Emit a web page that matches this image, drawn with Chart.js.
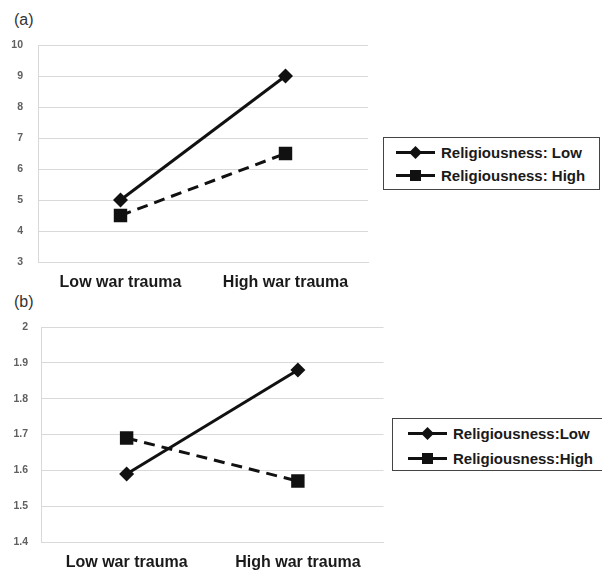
<!DOCTYPE html>
<html>
<head>
<meta charset="utf-8">
<script src="https://cdn.jsdelivr.net/npm/chart.js@4"></script>
<style>
  body { margin: 0; background: #fff; font-family: "Liberation Sans", Arial, sans-serif; }
  #wrap { position: relative; width: 602px; height: 572px; overflow: hidden; }
  .panel { position: absolute; left: 14px; font-size: 16px; color: #333; }
  .cv { position: absolute; left: 0; }
  .legend { position: absolute; border: 1.5px solid #444; background: #fff; box-sizing: border-box; }
  .legend div { display: flex; align-items: center; font-weight: bold; font-size: 15px; color: #1a1a1a; white-space: nowrap; }
  .legend svg { margin-right: 5px; flex: none; }
</style>
</head>
<body>
<div id="wrap">
  <div class="panel" style="top:11px">(a)</div>
  <div class="panel" style="top:293px">(b)</div>
  <div class="cv" style="top:0;width:380px;height:295px"><canvas id="chartA"></canvas></div>
  <div class="cv" style="top:282px;width:393px;height:290px"><canvas id="chartB"></canvas></div>
  <div class="legend" id="legA" style="left:383px;top:137px;width:217px;height:53px;padding:3px 0 0 11px"></div>
  <div class="legend" id="legB" style="left:392px;top:418px;width:215px;height:53px;padding:2px 0 0 14px"></div>
</div>
<script>
// categories
var categories = ["Low war trauma", "High war trauma"];

// panel (a)
var aLow = [5, 9];
var aHigh = [4.5, 6.5];
var aNames = ["Religiousness: Low", "Religiousness: High"];

// panel (b)
var bLow = [1.59, 1.88];
var bHigh = [1.69, 1.57];
var bNames = ["Religiousness:Low", "Religiousness:High"];

var gridColor = "#d9d9d9";

function makeChart(id, low, high, names, yMin, yMax, yStep, yWidth, tickPad, xHeight, padTop, padRight) {
    var ctx = document.getElementById(id);
    return new Chart(ctx, {
        type: "line",
        data: {
            labels: categories,
            datasets: [{
                label: names[0],
                data: low,
                borderColor: "#111",
                backgroundColor: "#111",
                borderWidth: 3,
                pointStyle: "rectRot",
                pointRadius: 7.5,
                pointBorderWidth: 0
            }, {
                label: names[1],
                data: high,
                borderColor: "#111",
                backgroundColor: "#111",
                borderWidth: 3,
                borderDash: [11, 7],
                pointStyle: "rect",
                pointRadius: 9.5,
                pointBorderWidth: 0
            }]
        },
        options: {
            responsive: true,
            maintainAspectRatio: false,
            animation: false,
            layout: { padding: { top: padTop, right: padRight, left: 0, bottom: 0 } },
            plugins: { legend: { display: false }, tooltip: { enabled: false } },
            scales: {
                x: {
                    offset: true,
                    grid: { display: false, drawTicks: false },
                    border: { display: true, color: gridColor, width: 1 },
                    ticks: { color: "#1a1a1a", font: { family: "Liberation Sans", size: 16, weight: "bold" }, padding: 11, maxRotation: 0 },
                    afterFit: function (s) { s.height = xHeight; }
                },
                y: {
                    min: yMin,
                    max: yMax,
                    grid: { color: gridColor, lineWidth: 1, drawTicks: false },
                    border: { display: true, color: gridColor, width: 1 },
                    ticks: {
                        stepSize: yStep,
                        color: "#606060",
                        font: { family: "Liberation Sans", size: 10.5, weight: "bold" },
                        padding: tickPad,
                        callback: function (v) { return String(Math.round(v * 10) / 10); }
                    },
                    afterFit: function (s) { s.width = yWidth; }
                }
            }
        }
    });
}

makeChart("chartA", aLow, aHigh, aNames, 3, 10, 1, 38, 15, 33, 45, 12);
makeChart("chartB", bLow, bHigh, bNames, 1.4, 2, 0.1, 41, 13, 30, 45, 3);

function legendIcon(square) {
    var mark = square
        ? '<rect x="15" y="5" width="11" height="11" fill="#111"/>'
        : '<polygon points="20.5,4 27,10.5 20.5,17 14,10.5" fill="#111"/>';
    return '<svg width="41" height="21" viewBox="0 0 41 21"><line x1="1" y1="10.5" x2="40" y2="10.5" stroke="#111" stroke-width="3"/>' + mark + '</svg>';
}

function buildLegend(id, names, rowH) {
    var el = document.getElementById(id);
    el.innerHTML = '<div style="height:' + rowH + 'px">' + legendIcon(false) + names[0] + '</div>' +
                   '<div style="height:' + rowH + 'px">' + legendIcon(true) + names[1] + '</div>';
}
buildLegend("legA", aNames, 23);
buildLegend("legB", bNames, 25);
</script>
</body>
</html>
